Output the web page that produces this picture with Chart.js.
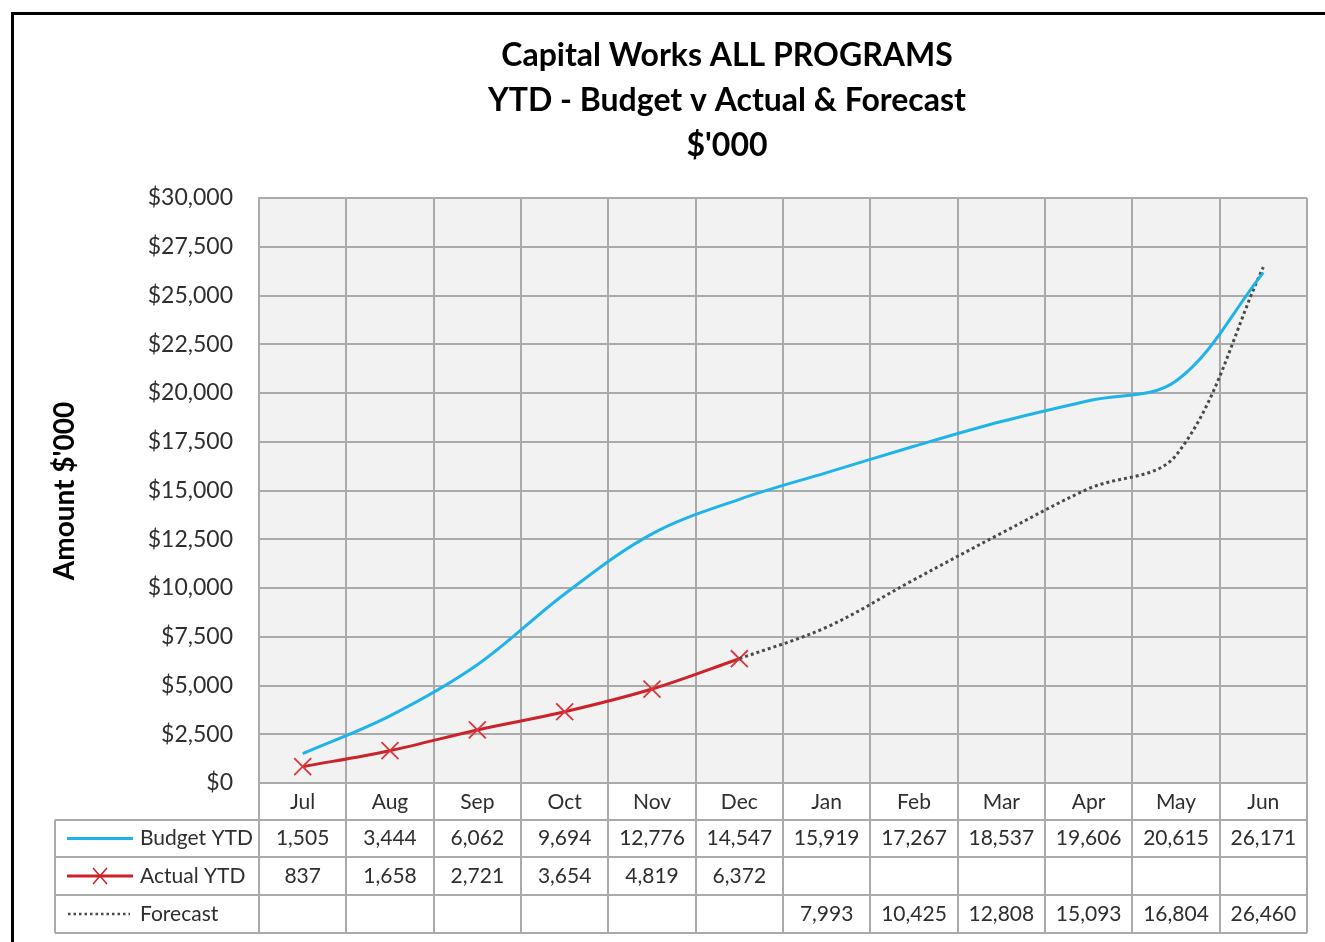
<!DOCTYPE html>
<html>
<head>
<meta charset="utf-8">
<script src="https://cdn.jsdelivr.net/npm/chart.js@4"></script>
<style>
  html, body { margin: 0; padding: 0; background: #fff; }
  #wrap { width: 1325px; height: 942px; }
</style>
</head>
<body>
<div id="wrap"><canvas id="chart" width="1325" height="942"></canvas></div>
<script>
// data ........................................................................
const months = ['Jul', 'Aug', 'Sep', 'Oct', 'Nov', 'Dec', 'Jan', 'Feb', 'Mar', 'Apr', 'May', 'Jun'];
const budgetYTD = [1505, 3444, 6062, 9694, 12776, 14547, 15919, 17267, 18537, 19606, 20615, 26171];
const actualYTD = [837, 1658, 2721, 3654, 4819, 6372, null, null, null, null, null, null];
const forecast = [null, null, null, null, null, null, 7993, 10425, 12808, 15093, 16804, 26460];
const titleLines = ['Capital Works ALL PROGRAMS', 'YTD - Budget v Actual & Forecast', "$'000"];
const yTitle = "Amount $'000";

// forecast line is joined onto the last actual point
const lastActual = actualYTD.filter(v => v !== null).length - 1;
const forecastLine = forecast.map((v, i) => i === lastActual ? actualYTD[i] : v);

const FONT = 'Lato, "Open Sans", sans-serif';
const TEXT = '#2e2e2e';
const GRID = '#aaaaaa';
const BLUE = '#1fb3ea';
const RED = '#cc2229';
const DOT = '#4a4a4a';

const rows = [
  { name: 'Budget YTD', vals: budgetYTD, kind: 'line' },
  { name: 'Actual YTD', vals: actualYTD, kind: 'cross' },
  { name: 'Forecast', vals: forecast, kind: 'dots' }
];

// background, frame, title ....................................................
const framePlugin = {
  id: 'frame',
  beforeDraw(chart) {
    const c = chart.ctx, a = chart.chartArea;
    c.save();
    c.fillStyle = '#fff';
    c.fillRect(0, 0, chart.width, chart.height);
    c.fillStyle = '#f2f2f2';
    c.fillRect(a.left, a.top, a.right - a.left, a.bottom - a.top);
    // outer black frame (top + left only, rest is cut off)
    c.strokeStyle = '#000';
    c.lineWidth = 3;
    c.beginPath();
    c.moveTo(12.5, chart.height);
    c.lineTo(12.5, 13.5);
    c.lineTo(chart.width, 13.5);
    c.stroke();
    c.restore();
  },
  afterDraw(chart) {
    const c = chart.ctx;
    c.save();
    c.fillStyle = '#000';
    c.textAlign = 'center';
    c.textBaseline = 'middle';
    c.font = 'bold 32px ' + FONT;
    titleLines.forEach((t, i) => c.fillText(t, 727, 56 + i * 45));
    // y axis title
    c.translate(65, 491);
    c.rotate(-Math.PI / 2);
    c.font = 'bold 28px ' + FONT;
    c.fillText(yTitle, 0, 0);
    c.restore();
  }
};

// data table under the chart ..................................................
const tablePlugin = {
  id: 'dataTable',
  afterDraw(chart) {
    const c = chart.ctx, a = chart.chartArea, x = chart.scales.x;
    const colW = (a.right - a.left) / months.length;
    const rowTops = [820, 857, 895, 933];
    const tLeft = 55;
    c.save();
    c.strokeStyle = GRID;
    c.lineWidth = 2;
    c.beginPath();
    for (let i = 0; i <= months.length; i++) {
      const px = Math.round(a.left + i * colW);
      c.moveTo(px, a.bottom);
      c.lineTo(px, rowTops[3]);
    }
    rowTops.forEach(y => { c.moveTo(tLeft, y); c.lineTo(a.right, y); });
    c.moveTo(tLeft, rowTops[0]);
    c.lineTo(tLeft, rowTops[3]);
    c.stroke();

    c.font = '21px ' + FONT;
    c.fillStyle = TEXT;
    c.textBaseline = 'middle';
    rows.forEach((r, ri) => {
      const cy = (rowTops[ri] + rowTops[ri + 1]) / 2;
      c.textAlign = 'center';
      r.vals.forEach((v, i) => {
        if (v === null) return;
        c.fillText(v.toLocaleString('en-US'), x.getPixelForValue(i), cy);
      });
      c.textAlign = 'left';
      c.fillText(r.name, 140, cy);
      // legend key
      c.save();
      if (r.kind === 'dots') {
        c.strokeStyle = DOT;
        c.lineWidth = 2.5;
        c.setLineDash([2.5, 3]);
        c.beginPath(); c.moveTo(68, cy); c.lineTo(130, cy); c.stroke();
      } else {
        c.strokeStyle = r.kind === 'line' ? BLUE : RED;
        c.lineWidth = 3;
        c.beginPath(); c.moveTo(67, cy); c.lineTo(133, cy); c.stroke();
        if (r.kind === 'cross') {
          c.lineWidth = 1.5;
          c.beginPath();
          c.moveTo(93, cy - 8); c.lineTo(107, cy + 8);
          c.moveTo(107, cy - 8); c.lineTo(93, cy + 8);
          c.stroke();
        }
      }
      c.restore();
    });
    c.restore();
  }
};

new Chart(document.getElementById('chart'), {
  type: 'line',
  data: {
    labels: months,
    datasets: [
      {
        label: 'Budget YTD',
        data: budgetYTD,
        borderColor: BLUE,
        borderWidth: 3,
        pointRadius: 0,
        tension: 0.35
      },
      {
        label: 'Forecast',
        data: forecastLine,
        borderColor: DOT,
        borderWidth: 3,
        borderDash: [3, 3],
        pointRadius: 0,
        tension: 0.35
      },
      {
        label: 'Actual YTD',
        data: actualYTD,
        borderColor: RED,
        borderWidth: 3,
        pointStyle: 'crossRot',
        pointRadius: 12,
        pointBorderWidth: 1.8,
        pointBorderColor: '#d9363c',
        tension: 0.35
      }
    ]
  },
  options: {
    responsive: false,
    animation: false,
    layout: { padding: { left: 12, right: 18, top: 198, bottom: 9 } },
    plugins: {
      legend: { display: false },
      title: { display: false },
      tooltip: { enabled: false }
    },
    scales: {
      x: {
        offset: true,
        grid: { offset: true, color: GRID, lineWidth: 2, drawTicks: false },
        border: { color: GRID, width: 2 },
        ticks: { color: TEXT, font: { family: FONT, size: 21 }, padding: 7, maxRotation: 0 },
        afterFit(s) { s.height = 150; }
      },
      y: {
        min: 0,
        max: 30000,
        ticks: {
          stepSize: 2500,
          color: TEXT,
          padding: 26,
          font: { family: FONT, size: 23 },
          callback: v => '$' + v.toLocaleString('en-US')
        },
        grid: { color: GRID, lineWidth: 2, drawTicks: false },
        border: { color: GRID, width: 2 },
        afterFit(s) { s.width = 247; }
      }
    }
  },
  plugins: [framePlugin, tablePlugin]
});
</script>
</body>
</html>
